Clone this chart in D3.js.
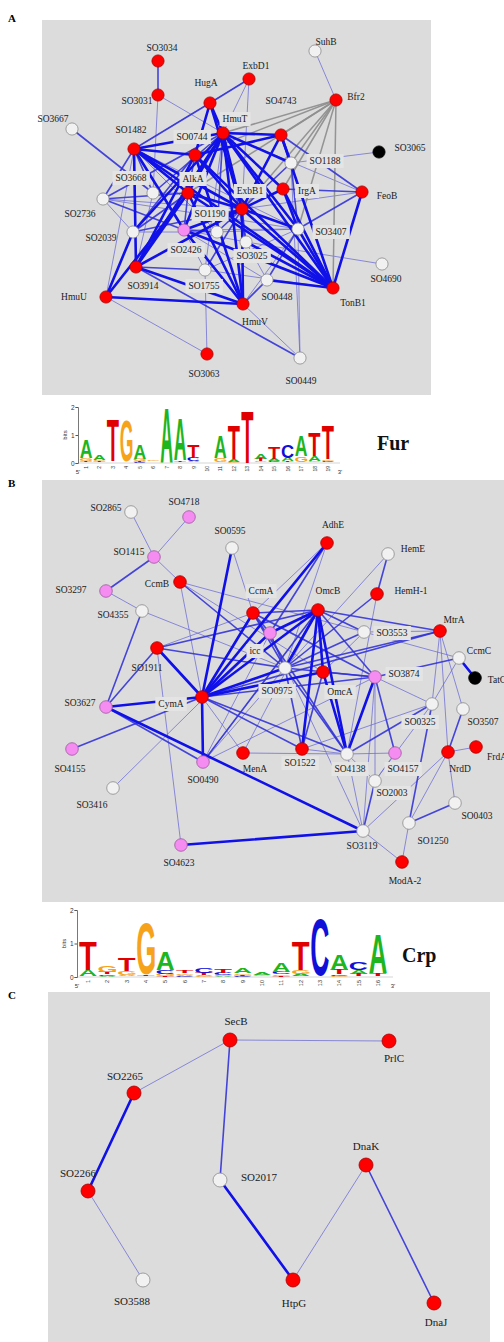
<!DOCTYPE html>
<html><head><meta charset="utf-8">
<script src="https://cdn.jsdelivr.net/npm/d3@7"></script>
<style>body{margin:0;background:#fff}svg{display:block}</style>
</head><body>
<svg id="fig" width="504" height="1342"></svg>
<script>
// ---------- Fur regulon network (panel A) ----------
// [gene, class, layoutX, layoutY]  class: r = regulated, w = other, p = predicted, k = unlinked
const furNodes = [
  ["SO3034","r",116,41],["ExbD1","r",207,59],["SO3031","r",116,75],["HugA","r",168,83],
  ["SO3667","w",30,109],["SO1482","r",92,129],["HmuT","r",181,113],["SO0744","r",153,135],
  ["SO4743","r",239,115],["SuhB","w",273,31],["Bfr2","r",294,80],["SO3065","k",337,132],
  ["SO1188","w",249,143],["SO3668","w",111,173],["AlkA","r",146,173],["SO2736","w",61,179],
  ["ExbB1","r",200,189],["IrgA","r",241,169],["FeoB","r",320,172],["SO2426","p",142,210],
  ["SO1190","w",175,212],["SO2039","w",91,212],["SO3407","w",256,209],["SO3025","w",204,222],
  ["SO4690","w",340,244],["SO3914","r",94,247],["SO1755","w",163,250],["SO0448","w",225,260],
  ["TonB1","r",291,268],["HmuU","r",64,277],["HmuV","r",201,284],["SO3063","r",165,334],
  ["SO0449","w",258,338]
];
// [source, target, strength]  3 strong, 2 medium, 1 weak, 0 Bfr2 links
const furEdges = [
  ["SO1482","HmuT",3],["SO1482","ExbB1",3],["SO1482","AlkA",3],["SO1482","SO0744",3],["SO1482","SO3914",3],
  ["SO1482","TonB1",3],["SO1482","SO2426",3],["HugA","HmuT",3],["HugA","SO0744",3],["HugA","ExbB1",3],
  ["HmuT","ExbB1",3],["HmuT","TonB1",3],["HmuT","AlkA",3],["HmuT","SO3914",3],["HmuT","SO2039",3],
  ["HmuT","SO3407",3],["HmuT","IrgA",3],["HmuT","SO4743",3],["HmuT","HmuV",3],["HmuT","SO2426",3],
  ["HmuT","SO1188",3],["TonB1","ExbB1",3],["TonB1","SO3407",3],["TonB1","AlkA",3],["TonB1","SO2426",3],
  ["TonB1","SO3025",3],["TonB1","IrgA",3],["TonB1","SO4743",3],["TonB1","SO0744",3],["TonB1","SO0448",3],
  ["TonB1","FeoB",3],["HmuU","HmuV",3],["HmuU","SO2039",3],["HmuU","AlkA",3],["HmuV","ExbB1",3],
  ["HmuV","SO2426",3],["HmuV","SO3914",3],["HmuV","AlkA",3],["HmuV","SO0744",3],["SO3914","AlkA",3],
  ["SO3914","ExbB1",3],["SO3914","SO0744",3],["ExbB1","AlkA",3],["ExbB1","SO0744",3],["ExbB1","IrgA",3],
  ["ExbB1","SO3407",3],["ExbB1","SO2426",3],["SO4743","SO0744",3],["SO4743","ExbB1",3],["SO4743","SO1188",3],
  ["IrgA","SO3407",3],
  ["HugA","SO1482",2],["HugA","ExbD1",2],["SO3034","SO3031",2],["SO3667","SO3668",2],["FeoB","SO3407",2],
  ["FeoB","SO4743",2],["FeoB","IrgA",2],["SO2039","AlkA",2],["SO2039","SO0744",2],["SO2039","ExbB1",2],
  ["SO2736","SO1482",2],["SO2736","AlkA",2],["SO2736","SO2426",2],["SO2736","HmuT",2],["SO3668","SO1482",2],
  ["SO3668","HmuT",2],["SO1190","HmuT",2],["SO1190","ExbB1",2],["SO1190","SO2426",2],["SO3025","ExbB1",2],
  ["SO3025","HmuT",2],["SO1755","SO3914",2],["SO1755","ExbB1",2],["SO0448","SO3407",2],["SO0448","HmuV",2],
  ["SO0449","SO3914",2],["AlkA","SO0744",2],["AlkA","SO2426",2],["SO1188","SO3407",2],["SO1188","ExbB1",2],
  ["SO3031","SO3668",1],["SO3031","HmuT",1],["ExbD1","HmuT",1],["ExbD1","ExbB1",1],["ExbD1","SO1482",1],
  ["SuhB","Bfr2",1],["SO3065","SO1188",1],["SO4690","SO3025",1],["SO0449","HmuV",1],["SO0449","SO3407",1],
  ["SO0449","SO1188",1],["SO3063","SO1755",1],["SO3063","HmuU",1],["HmuU","SO1482",1],["SO2736","ExbB1",1],
  ["SO2736","SO3407",1],["SO2736","SO2039",1],["SO2039","SO1190",1],["SO1755","SO2426",1],["SO1755","TonB1",1],
  ["SO1755","HmuT",1],["SO1190","SO3407",1],["SO3025","SO2426",1],["SO3025","SO0448",1],["SO0448","SO2426",1],
  ["FeoB","ExbB1",1],["FeoB","HmuT",1],["SO3668","AlkA",1],["SO3668","SO3914",1],["SO3407","SO2426",1],
  ["SO3407","SO1755",1],["HmuV","SO3407",1],["SO1482","SO3407",1],["SO1482","SO1190",1],
  ["Bfr2","HmuT",0],["Bfr2","SO4743",0],["Bfr2","SO1188",0],["Bfr2","ExbB1",0],["Bfr2","IrgA",0],
  ["Bfr2","SO3407",0],["Bfr2","TonB1",0],["Bfr2","SO0744",0],["Bfr2","AlkA",0]
];

// ---------- Crp regulon network (panel B) ----------
const crpNodes = [
  ["SO2865","w",89,32],["SO4718","p",147,37],["SO0595","w",190,68],["SO1415","p",112,77],
  ["CcmB","r",138,102],["SO3297","p",64,111],["CcmA","r",211,133],["SO4355","w",100,131],
  ["SO1911","r",115,168],["icc","p",228,153],["AdhE","r",285,63],["HemE","w",346,74],
  ["HemH-1","r",335,114],["OmcB","r",276,130],["SO3553","w",322,152],["MtrA","r",398,151],
  ["CcmC","w",417,178],["TatC","k",433,198],["SO3874","p",333,197],["SO0975","w",243,188],
  ["OmcA","r",281,192],["CymA","r",160,217],["SO3627","p",64,227],["SO4155","p",30,269],
  ["SO0490","p",161,282],["MenA","r",201,273],["SO3416","w",71,308],["SO4623","p",139,365],
  ["SO1522","r",260,269],["SO4138","w",305,274],["SO4157","p",353,273],["SO2003","w",333,301],
  ["SO0325","w",390,224],["SO3507","w",421,229],["NrdD","r",406,272],["FrdA","r",434,267],
  ["SO0403","w",413,323],["SO1250","w",367,343],["SO3119","w",321,351],["ModA-2","r",360,382]
];
const crpEdges = [
  ["SO2865","SO1415",1],["SO4718","SO1415",1],["SO1415","SO3297",2],["SO1415","CcmB",1],["SO3297","SO4355",1],
  ["SO3627","SO4355",2],["SO3627","SO1911",2],["SO4355","SO0975",1],["SO0595","CcmA",1],["SO0595","CymA",3],
  ["CcmB","SO0975",2],["CcmB","CymA",1],["CcmB","SO3553",1],["CcmB","OmcA",1],["SO1911","CcmA",1],
  ["SO1911","OmcB",2],["SO1911","SO0975",2],["SO1911","CymA",3],["CcmA","CymA",3],["CcmA","OmcB",2],
  ["CcmA","SO0975",2],["CcmA","SO3874",2],["CcmA","SO4138",2],["CcmA","icc",2],["AdhE","CymA",3],
  ["AdhE","SO0975",1],["AdhE","CcmA",1],["AdhE","icc",2],["HemE","HemH-1",2],["HemE","SO0975",1],
  ["HemH-1","SO0975",2],["HemH-1","SO4138",1],["OmcB","SO0975",3],["OmcB","CymA",3],["OmcB","SO1522",3],
  ["OmcB","SO4138",3],["OmcB","SO3553",2],["OmcB","MtrA",2],["OmcB","OmcA",3],["OmcB","icc",3],
  ["OmcB","SO3874",2],["OmcB","SO0490",2],["SO0975","CymA",3],["SO0975","SO3553",2],["SO0975","MtrA",2],
  ["SO0975","SO1522",2],["SO0975","SO4138",2],["SO0975","icc",2],["SO0975","SO0490",1],["SO0975","SO3874",2],
  ["OmcA","CymA",3],["OmcA","SO1522",2],["OmcA","SO4138",3],["OmcA","SO3553",1],["OmcA","SO3874",2],
  ["MtrA","SO3553",1],["MtrA","NrdD",1],["MtrA","SO0325",1],["MtrA","SO3507",1],["MtrA","CymA",2],
  ["CcmC","TatC",3],["CcmC","SO0325",1],["CcmC","SO3874",2],["CcmC","SO3553",1],["SO3507","NrdD",2],
  ["NrdD","FrdA",1],["NrdD","SO0403",1],["NrdD","SO3119",1],["NrdD","SO1250",1],["SO0325","SO1250",2],
  ["SO0325","SO4138",2],["SO0325","SO3874",1],["SO0325","SO2003",1],["SO0325","SO1522",1],["SO0403","SO1250",2],
  ["SO1250","ModA-2",1],["SO3119","ModA-2",1],["SO3119","SO4623",3],["SO3119","SO3627",3],["SO3119","SO2003",2],
  ["SO3119","OmcB",1],["SO3119","icc",1],["SO3119","SO3874",1],["SO4623","SO1911",1],["SO3416","icc",1],
  ["SO4155","CymA",2],["SO3627","CymA",3],["SO3627","SO0490",2],["SO0490","CymA",3],["SO0490","OmcB",1],
  ["SO0490","icc",1],["SO0490","SO3874",1],["MenA","SO4138",1],["MenA","CymA",1],["MenA","OmcB",1],
  ["SO4157","SO3874",2],["SO4157","SO2003",1],["SO4157","SO4138",1],["SO3874","SO4138",3],["SO3874","SO2003",1],
  ["SO3874","CymA",2],["SO1522","CymA",2],["SO1522","SO4138",1],["SO4138","CymA",2],["SO4138","SO2003",1],
  ["icc","CymA",3]
];

// ---------- chaperone network (panel C) ----------
const chapNodes = [
  ["SecB","r",182,48],["PrlC","r",341,49],["SO2265","r",86,101],["SO2266","r",40,199],
  ["SO2017","w",172,188],["DnaK","r",318,173],["SO3588","w",95,288],["HtpG","r",245,288],["DnaJ","r",386,311]
];
const chapEdges = [
  ["SecB","PrlC",1],["SecB","SO2265",1],["SecB","SO2017",2],["SO2265","SO2266",3],
  ["SO2266","SO3588",1],["SO2017","HtpG",3],["HtpG","DnaK",1],["DnaK","DnaJ",2]
];

// ---------- binding-site logos (bits per base at each position) ----------
const furLogo = [
  {A:.66,C:.03,G:.10,T:.04},{A:.17,C:.02,G:.06,T:.04},{A:.03,C:.01,G:.03,T:1.48},{A:.03,C:.01,G:1.47,T:.01},
  {A:.50,C:.04,G:.08,T:.04},{A:.02,C:.03,G:.05,T:.02},{A:1.94,C:0,G:0,T:0},{A:1.50,C:.02,G:.02,T:.06},
  {A:.04,C:.12,G:.03,T:.45},{A:.01,C:.01,G:.01,T:.01},{A:.78,C:.02,G:.12,T:.03},{A:.10,C:0,G:.05,T:1.22},
  {A:0,C:0,G:0,T:1.85},{A:.18,C:.03,G:.04,T:.07},{A:.08,C:.05,G:.02,T:.40},{A:.12,C:.45,G:.03,T:.04},
  {A:.75,C:.03,G:.20,T:.02},{A:.18,C:.02,G:.04,T:.82},{A:.03,C:.05,G:.05,T:1.22}
];
const crpLogo = [
  {A:.18,C:.02,G:.01,T:.84},{A:.04,C:.04,G:.18,T:.06},{A:.04,C:.02,G:.12,T:.38},{A:.01,C:.01,G:1.52,T:.04},
  {A:.55,C:.12,G:.06,T:.03},{A:.04,C:.03,G:.05,T:.08},{A:.04,C:.15,G:.03,T:.06},{A:.03,C:.06,G:.04,T:.10},
  {A:.15,C:.03,G:.05,T:.03},{A:.08,C:.02,G:.04,T:.01},{A:.28,C:.07,G:.05,T:.03},{A:.06,C:.02,G:.12,T:.86},
  {A:.01,C:1.68,G:.02,T:.01},{A:.48,C:.05,G:.03,T:.14},{A:.12,C:.22,G:.02,T:.08},{A:1.15,C:.02,G:.02,T:.08}
];
const logoTicks = [0, 1, 2];

// ---------- drawing ----------
const svg = d3.select("#fig");
const PANEL_BG = "#dcdcdc";
const LABEL_BOX = "#e4e4e4";
const SERIF = "'Liberation Serif','Times New Roman',serif";
const SANS = "'Liberation Sans',Arial,sans-serif";
const fills = {r:"#ff0000", w:"#f1f1f1", p:"#f58cf2", k:"#000000"};
const strokes = {r:"#a80000", w:"#8a8a8a", p:"#9c5a9c", k:"#000000"};
const edgeLook = {
  0:{c:"#8f8f8f", w:1.5, o:0.95},
  1:{c:"#6a6ad6", w:1.0, o:0.75},
  2:{c:"#3333d8", w:1.6, o:0.9},
  3:{c:"#1010e8", w:2.6, o:1}
};
const layerOrder = {0:1, 1:0, 2:2, 3:3};

function drawNetwork(cfg) {
  const [x0, y0, w, h] = cfg.frame;
  const g = svg.append("g");
  g.append("rect").attr("x", x0).attr("y", y0).attr("width", w).attr("height", h).attr("fill", PANEL_BG);
  const xs = d3.scaleLinear().domain([0, w]).range([x0, x0 + w]);
  const ys = d3.scaleLinear().domain([0, h]).range([y0, y0 + h]);
  const byId = new Map(cfg.nodes.map(d => [d[0], d]));
  const edges = cfg.edges.slice().sort((a, b) => layerOrder[a[2]] - layerOrder[b[2]]);

  g.append("g").selectAll("line").data(edges).join("line")
    .attr("x1", d => xs(byId.get(d[0])[2])).attr("y1", d => ys(byId.get(d[0])[3]))
    .attr("x2", d => xs(byId.get(d[1])[2])).attr("y2", d => ys(byId.get(d[1])[3]))
    .attr("stroke", d => edgeLook[d[2]].c)
    .attr("stroke-width", d => edgeLook[d[2]].w)
    .attr("stroke-opacity", d => edgeLook[d[2]].o)
    .attr("stroke-linecap", "round");

  const boxLayer = g.append("g");
  const textLayer = g.append("g");
  cfg.nodes.forEach(n => {
    const off = cfg.labelAt[n[0]] || [0, -14];
    const t = textLayer.append("text")
      .attr("x", xs(n[2]) + off[0]).attr("y", ys(n[3]) + off[1])
      .attr("text-anchor", "middle").attr("dominant-baseline", "central")
      .attr("font-family", SERIF).attr("font-size", cfg.fontSize).attr("fill", "#1a1a1a")
      .text(n[0]);
    if (cfg.boxed.includes(n[0])) {
      const b = t.node().getBBox();
      boxLayer.append("rect").attr("x", b.x - 3).attr("y", b.y - 2)
        .attr("width", b.width + 6).attr("height", b.height + 4).attr("fill", LABEL_BOX);
    }
  });

  g.append("g").selectAll("circle").data(cfg.nodes).join("circle")
    .attr("cx", d => xs(d[2])).attr("cy", d => ys(d[3])).attr("r", cfg.radius)
    .attr("fill", d => fills[d[1]]).attr("stroke", d => strokes[d[1]]).attr("stroke-width", 0.8);
}

drawNetwork({
  nodes: furNodes, edges: furEdges, frame: [42, 20, 389, 375], radius: 6.1, fontSize: 9.5,
  labelAt: {
    SO3034:[4,-13], ExbD1:[7,-13], SO3031:[-21,6], HugA:[-4,-20], SO3667:[-19,-10], SO1482:[-3,-19],
    HmuT:[12,-14], SO0744:[-3,-18], SO4743:[0,-34], SuhB:[11,-9], Bfr2:[20,-3], SO3065:[31,-4],
    SO1188:[34,-2], SO3668:[-22,-15], AlkA:[5,-14], SO2736:[-23,15], ExbB1:[8,-18], IrgA:[24,2],
    FeoB:[25,4], SO2426:[2,20], SO1190:[-7,-18], SO2039:[-32,6], SO3407:[33,3], SO3025:[6,14],
    SO4690:[4,15], SO3914:[7,19], SO1755:[-1,16], SO0448:[10,17], TonB1:[20,15], HmuU:[-32,0],
    HmuV:[12,18], SO3063:[-3,20], SO0449:[1,23]
  },
  boxed: ["HmuT","SO0744","AlkA","ExbB1","SO1190","SO2426","SO3025","IrgA","SO1188","SO3407","SO3668","SO1755"]
});

drawNetwork({
  nodes: crpNodes, edges: crpEdges, frame: [42, 480, 462, 422], radius: 6.3, fontSize: 9.5,
  labelAt: {
    SO2865:[-25,-4], SO4718:[-5,-15], SO0595:[-2,-17], SO1415:[-25,-5], CcmB:[-23,2], SO3297:[-35,-1],
    CcmA:[8,-22], SO4355:[-29,4], SO1911:[-10,20], icc:[-15,18], AdhE:[6,-18], HemE:[25,-5],
    "HemH-1":[34,-3], OmcB:[10,-19], SO3553:[28,1], MtrA:[14,-11], CcmC:[20,-7], TatC:[22,2],
    SO3874:[29,-3], SO0975:[-8,23], OmcA:[17,20], CymA:[-31,7], SO3627:[-26,-4], SO4155:[-2,20],
    SO0490:[0,18], MenA:[12,16], SO3416:[-21,17], SO4623:[-2,18], SO1522:[-2,14], SO4138:[3,15],
    SO4157:[8,16], SO2003:[17,12], SO0325:[-12,18], SO3507:[20,13], NrdD:[12,17], FrdA:[21,10],
    SO0403:[22,13], SO1250:[24,18], SO3119:[-1,15], "ModA-2":[3,19]
  },
  boxed: ["icc","CcmA","SO0975","OmcA","CymA","SO3553","SO3874","SO0325","SO4138","SO4157","SO2003","SO1522"]
});

drawNetwork({
  nodes: chapNodes, edges: chapEdges, frame: [48, 992, 442, 350], radius: 7, fontSize: 11,
  labelAt: {
    SecB:[6,-19], PrlC:[5,17], SO2265:[-9,-17], SO2266:[-10,-18], SO2017:[39,-3],
    DnaK:[0,-19], SO3588:[-11,21], HtpG:[1,23], DnaJ:[2,19]
  },
  boxed: []
});

// panel letters
[["A",22],["B",487],["C",999]].forEach(([t, y]) =>
  svg.append("text").attr("x", 8).attr("y", y).attr("font-family", SERIF)
    .attr("font-weight", "bold").attr("font-size", 11).text(t));

// ---------- sequence logos ----------
const baseColor = {A:"#1fb51f", C:"#1010d8", G:"#f7a21b", T:"#e00000"};
const glyph = (() => {
  const ctx = document.createElement("canvas").getContext("2d");
  ctx.font = "bold 100px 'Liberation Sans'";
  const m = {};
  "ACGT".split("").forEach(L => {
    const r = ctx.measureText(L);
    m[L] = {left: r.actualBoundingBoxLeft, w: r.actualBoundingBoxLeft + r.actualBoundingBoxRight,
            asc: r.actualBoundingBoxAscent, h: r.actualBoundingBoxAscent + r.actualBoundingBoxDescent};
  });
  return m;
})();

function drawLogo(cfg) {
  const n = cfg.data.length;
  const g = svg.append("g");
  const xs = d3.scaleLinear().domain([1, n]).range([cfg.firstX, cfg.lastX]);
  const ys = d3.scaleLinear().domain([0, 2]).range([cfg.base, cfg.base - 2 * cfg.bitPx]);

  g.append("line").attr("x1", cfg.axisX).attr("x2", cfg.endX).attr("y1", cfg.base).attr("y2", cfg.base)
    .attr("stroke", "#bbb").attr("stroke-width", 0.6);

  cfg.data.forEach((col, i) => {
    const stack = Object.entries(col).filter(d => d[1] > 0).sort((a, b) => a[1] - b[1]);
    let acc = 0;
    stack.forEach(([L, v]) => {
      const yBot = ys(acc), yTop = ys(acc + v);
      acc += v;
      const hpx = yBot - yTop;
      if (hpx < 0.9) return;
      const gm = glyph[L];
      const left = xs(i + 1) - cfg.colW / 2;
      g.append("text")
        .attr("transform", `translate(${left},${yTop}) scale(${cfg.colW / gm.w},${hpx / gm.h}) translate(${gm.left},${gm.asc})`)
        .attr("font-family", SANS).attr("font-weight", "bold")
        .attr("font-size", 100).attr("fill", baseColor[L]).text(L);
    });
    g.append("text")
      .attr("transform", `translate(${xs(i + 1) + 2},${cfg.base + 3}) rotate(-90)`)
      .attr("text-anchor", "end").attr("font-family", SANS)
      .attr("font-size", cfg.numSize).attr("fill", "#333").text(i + 1);
  });

  const ax = g.append("g").attr("transform", `translate(${cfg.axisX},0)`)
    .call(d3.axisLeft(ys).tickValues(logoTicks).tickSize(2.5).tickFormat(d3.format("d")));
  ax.select(".domain").attr("stroke", "#555").attr("stroke-width", 0.8);
  ax.selectAll(".tick line").attr("stroke", "#555");
  ax.selectAll("text").attr("font-size", 6.5).attr("font-family", SANS).attr("fill", "#333").attr("x", -3.5);
  g.append("text").attr("transform", `translate(${cfg.axisX - 11},${ys(1)}) rotate(-90)`)
    .attr("text-anchor", "middle").attr("font-family", SANS)
    .attr("font-size", 6).attr("fill", "#333").text("bits");
  g.append("text").attr("x", cfg.axisX).attr("y", cfg.base + 11).attr("text-anchor", "middle")
    .attr("font-family", SANS).attr("font-size", 6).attr("fill", "#333").text("5'");
  g.append("text").attr("x", cfg.endX).attr("y", cfg.base + 11).attr("text-anchor", "middle")
    .attr("font-family", SANS).attr("font-size", 6).attr("fill", "#333").text("3'");
  g.append("text").attr("x", cfg.nameX).attr("y", cfg.nameY).attr("font-family", SERIF)
    .attr("font-weight", "bold").attr("font-size", 20).attr("fill", "#111").text(cfg.name);
}

drawLogo({data: furLogo, firstX: 86, lastX: 328, colW: 12, base: 463, bitPx: 28, axisX: 78, endX: 340,
  numSize: 5, name: "Fur", nameX: 377, nameY: 450});
drawLogo({data: crpLogo, firstX: 88, lastX: 378, colW: 17.5, base: 977, bitPx: 33.5, axisX: 77, endX: 393,
  numSize: 5.5, name: "Crp", nameX: 402, nameY: 962});
</script>
</body></html>
